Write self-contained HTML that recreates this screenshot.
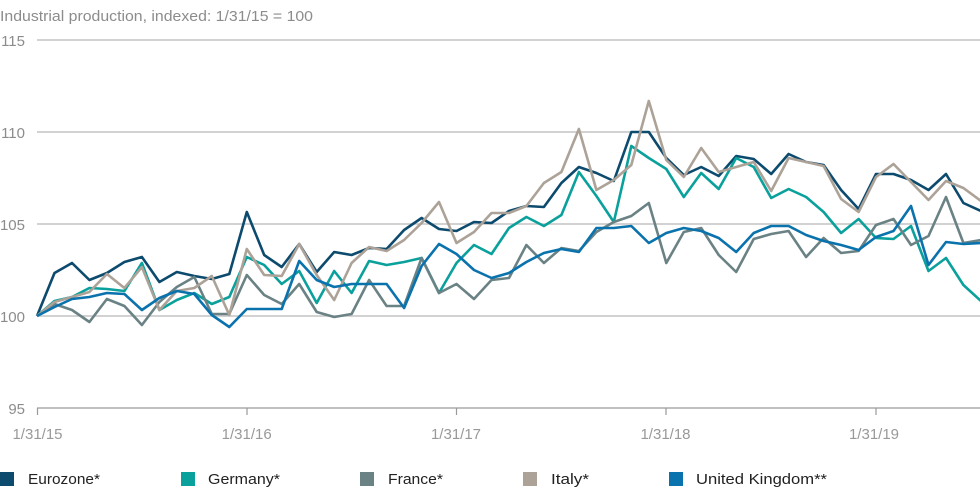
<!DOCTYPE html>
<html><head><meta charset="utf-8"><style>
html,body{margin:0;padding:0;background:#fff;}
svg{display:block;}
text{font-family:"Liberation Sans",Arial,sans-serif;}
</style></head><body>
<svg width="980" height="501" viewBox="0 0 980 501" xmlns="http://www.w3.org/2000/svg">
<text x="0" y="21" font-size="15" fill="#8c8c8c" textLength="313" lengthAdjust="spacingAndGlyphs">Industrial production, indexed: 1/31/15 = 100</text>
<g stroke="#c4c4c4" stroke-width="1.6">
<line x1="37" y1="40" x2="980" y2="40"/>
<line x1="37" y1="132" x2="980" y2="132"/>
<line x1="37" y1="224" x2="980" y2="224"/>
<line x1="37" y1="316" x2="980" y2="316"/>
</g>
<g stroke="#9a9a9a" stroke-width="1.2">
<line x1="37" y1="408" x2="980" y2="408"/>
<line x1="37.5" y1="408" x2="37.5" y2="415"/>
<line x1="247" y1="408" x2="247" y2="415"/>
<line x1="456.5" y1="408" x2="456.5" y2="415"/>
<line x1="666" y1="408" x2="666" y2="415"/>
<line x1="876" y1="408" x2="876" y2="415"/>
</g>
<g font-size="15" fill="#8c8c8c" text-anchor="end">
<text x="25" y="46">115</text>
<text x="25" y="138">110</text>
<text x="25" y="230">105</text>
<text x="25" y="322">100</text>
<text x="25" y="414">95</text>
</g>
<g font-size="15" fill="#999" text-anchor="middle">
<text x="37.5" y="439">1/31/15</text>
<text x="246.7" y="439">1/31/16</text>
<text x="456" y="439">1/31/17</text>
<text x="665.5" y="439">1/31/18</text>
<text x="874" y="439">1/31/19</text>
</g>
<g fill="none" stroke-width="2.6" stroke-linejoin="round" stroke-linecap="butt">
<polyline stroke="#0c4a6e" points="37,316 54.5,273 72,263 89.4,280 106.9,273 124.4,262 141.9,257 159.4,282 176.8,272 194.3,276 211.8,279 229.3,274 246.8,212 264.2,255 281.7,267 299.2,244 316.7,272 334.2,252 351.6,255 369.1,248 386.6,249 404.1,230 421.6,218 439,229 456.5,231 474,222 491.5,223 509,211 526.4,206 543.9,207 561.4,183 578.9,167 596.4,173 613.8,181 631.3,132 648.8,132 666.3,158 683.8,175 701.2,167 718.7,176 736.2,156 753.7,159 771.2,174 788.6,154 806.1,162 823.6,165 841.1,190 858.6,209 876,174 893.5,174 911,180 928.5,190 946,174 963.4,203 981,211"/>
<polyline stroke="#0aa09c" points="37,316 54.5,301 72,297 89.4,288 106.9,289 124.4,291 141.9,263 159.4,310 176.8,300 194.3,293 211.8,304 229.3,297 246.8,257 264.2,265 281.7,284 299.2,271 316.7,303 334.2,271 351.6,293 369.1,261 386.6,265 404.1,262 421.6,258 439,293 456.5,263 474,245 491.5,254 509,228 526.4,217 543.9,226 561.4,215 578.9,172 596.4,196 613.8,222 631.3,146 648.8,158 666.3,169 683.8,197 701.2,173 718.7,189 736.2,158 753.7,167 771.2,198 788.6,189 806.1,197 823.6,212 841.1,233 858.6,219 876,238 893.5,239 911,226 928.5,271 946,258 963.4,285 981,301"/>
<polyline stroke="#6b8285" points="37,316 54.5,304 72,310 89.4,322 106.9,299 124.4,306 141.9,325 159.4,302 176.8,287 194.3,277 211.8,314 229.3,314 246.8,275 264.2,295 281.7,304 299.2,284 316.7,312 334.2,317 351.6,314 369.1,280 386.6,306 404.1,306 421.6,258 439,293 456.5,284 474,299 491.5,280 509,278 526.4,245 543.9,263 561.4,248 578.9,251 596.4,232 613.8,222 631.3,216 648.8,203 666.3,263 683.8,232 701.2,228 718.7,255 736.2,272 753.7,239 771.2,234 788.6,231 806.1,257 823.6,238 841.1,253 858.6,251 876,225 893.5,219 911,245 928.5,236 946,197 963.4,243 981,240"/>
<polyline stroke="#aca297" points="37,316 54.5,302 72,297 89.4,292 106.9,274 124.4,288 141.9,267 159.4,310 176.8,291 194.3,288 211.8,276 229.3,315 246.8,249 264.2,275 281.7,276 299.2,244 316.7,275 334.2,300 351.6,263 369.1,247 386.6,251 404.1,240 421.6,223 439,202 456.5,243 474,232 491.5,213 509,213 526.4,206 543.9,183 561.4,172 578.9,129 596.4,190 613.8,180 631.3,165 648.8,101 666.3,160 683.8,177 701.2,148 718.7,172 736.2,167 753.7,162 771.2,191 788.6,158 806.1,162 823.6,166 841.1,199 858.6,212 876,177 893.5,164 911,182 928.5,200 946,181 963.4,188 981,201"/>
<polyline stroke="#0a72ac" points="37,316 54.5,307 72,299 89.4,297 106.9,293 124.4,294 141.9,310 159.4,298 176.8,291 194.3,294 211.8,315 229.3,327 246.8,309 264.2,309 281.7,309 299.2,261 316.7,280 334.2,287 351.6,284 369.1,284 386.6,284 404.1,308 421.6,266 439,244 456.5,254 474,270 491.5,278 509,273 526.4,262 543.9,253 561.4,249 578.9,252 596.4,228 613.8,228 631.3,226 648.8,243 666.3,233 683.8,228 701.2,231 718.7,238 736.2,252 753.7,233 771.2,226 788.6,226 806.1,235 823.6,241 841.1,245 858.6,250 876,237 893.5,231 911,206 928.5,265 946,242 963.4,244 981,243"/>
</g>
<rect x="0" y="472" width="14" height="14" fill="#0c4a6e"/>
<rect x="181" y="472" width="14" height="14" fill="#0aa09c"/>
<rect x="360" y="472" width="14" height="14" fill="#6b8285"/>
<rect x="523" y="472" width="14" height="14" fill="#aca297"/>
<rect x="669" y="472" width="14" height="14" fill="#0a72ac"/>
<g font-size="15" fill="#222">
<text x="28" y="484" textLength="72" lengthAdjust="spacingAndGlyphs">Eurozone*</text>
<text x="208" y="484" textLength="72" lengthAdjust="spacingAndGlyphs">Germany*</text>
<text x="388" y="484" textLength="55" lengthAdjust="spacingAndGlyphs">France*</text>
<text x="551" y="484" textLength="38" lengthAdjust="spacingAndGlyphs">Italy*</text>
<text x="696" y="484" textLength="131" lengthAdjust="spacingAndGlyphs">United Kingdom**</text>
</g>
</svg>
</body></html>
